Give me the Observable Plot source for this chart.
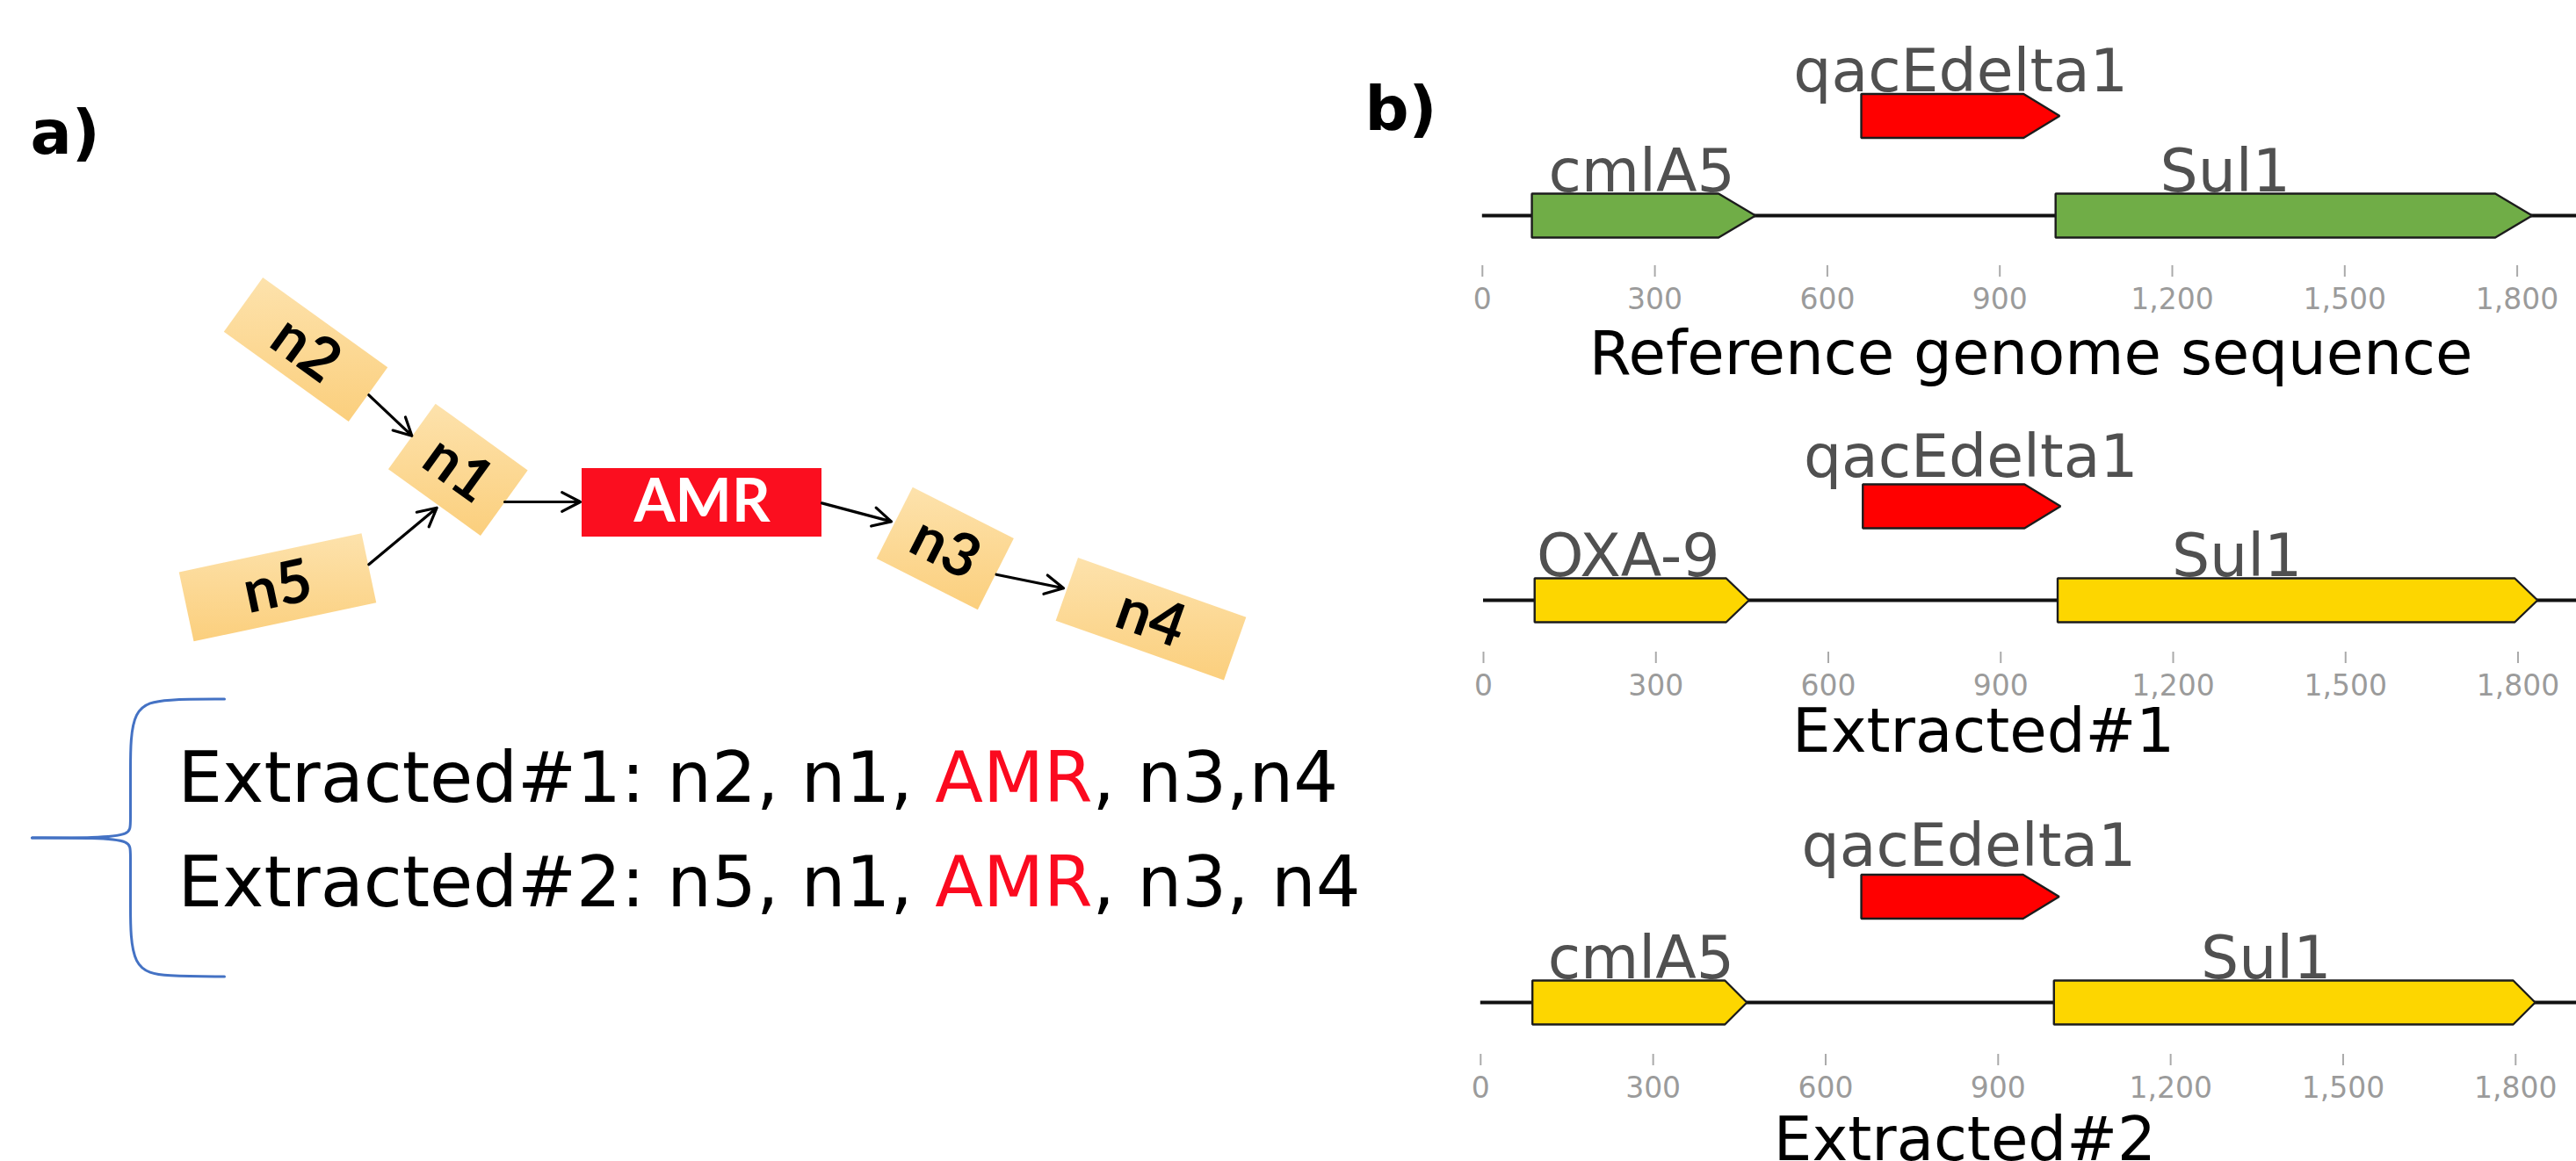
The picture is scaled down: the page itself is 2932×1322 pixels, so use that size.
<!DOCTYPE html>
<html><head><meta charset="utf-8">
<script src="https://cdn.jsdelivr.net/npm/d3@7"></script>
<script src="https://cdn.jsdelivr.net/npm/@observablehq/plot@0.6"></script>
<style>
html,body{margin:0;padding:0;background:#fff;}
#fig{position:relative;width:2932px;height:1322px;overflow:hidden;background:#fff;}
#fig > div{position:absolute;}
#fig svg{display:block;max-width:none;}
</style></head><body><div id="fig"></div>
<script>
// ================= DATA =================
// Panel a: assembly graph around the AMR gene
const nodeNames = ["n2", "n1", "n5", "n3", "n4"];
const amrName = "AMR";
const edgeFrom = ["n2", "n5", "n1", "AMR", "n3"];
const edgeTo   = ["n1", "n1", "AMR", "n3", "n4"];
const extractedLines = ["Extracted#1: n2, n1, AMR, n3,n4", "Extracted#2: n5, n1, AMR, n3, n4"];
const panelLabels = ["a)", "b)"];

// Panel b: gene tracks (positions in bp)
const trackTitles = ["Reference genome sequence", "Extracted#1", "Extracted#2"];
const geneNames  = [["cmlA5", "qacEdelta1", "Sul1"], ["OXA-9", "qacEdelta1", "Sul1"], ["cmlA5", "qacEdelta1", "Sul1"]];
const geneStart  = [[86, 659, 997], [89, 660, 999], [90, 662, 997]];
const geneEnd    = [[475, 1004, 1826], [462, 1004, 1834], [463, 1006, 1834]];
const geneLevel  = [[0, 1, 0], [0, 1, 0], [0, 1, 0]];
const geneLabelX = [[277, 832, 1292], [252, 848, 1311], [279, 849, 1366]];
const axisTicks  = [0, 300, 600, 900, 1200, 1500, 1800];

// ================= LAYOUT / STYLE =================
const W = 2932, H = 1322;
const layoutA = {
  nodes: {
    n2: {cx: 347.5, cy: 397.5, w: 175, h: 76, angle: 35.75},
    n1: {cx: 520.8, cy: 534.3, w: 129.4, h: 91.8, angle: 35.8},
    n5: {cx: 315.5, cy: 668.3, w: 212.4, h: 80.7, angle: -12},
    n3: {cx: 1075.3, cy: 624, w: 129, h: 91, angle: 26.8},
    n4: {cx: 1309.5, cy: 704.2, w: 203, h: 76, angle: 19.5}
  },
  amr: {x1: 662, x2: 935, y1: 533, y2: 611},
  edges: [[419.3, 449.3, 468.3, 495.7], [419.3, 642.3, 496.7, 577.7], [574, 571, 660, 571], [935, 572.4, 1014, 593.4], [1133.6, 653.7, 1210, 669.3]],
  textX: 202, textY: [912.4, 1031.7],
  labelPos: [[34, 174], [1553, 147]],
  braceUpper: [[255, 795.6], [190, 795.6], [148, 802], [148, 880], [148, 938], [148, 950], [110, 953.5], [36, 953.5]],
  braceMirrorY: 1907
};
const trackLayout = [
  {top: 0,   height: 440, x0: 146.8, x1800: 1324.6, lineY: 245, upperY: 131.5, titleX: 954, titleDy: 123, headPx: 42, upperGap: 3},
  {top: 440, height: 440, x0: 148.0, x1800: 1325.5, lineY: 243, upperY: 136,   titleX: 870, titleDy: 113, headPx: 26, upperGap: 9},
  {top: 898, height: 424, x0: 144.8, x1800: 1322.8, lineY: 243, upperY: 122.5, titleX: 842, titleDy: 120, headPx: 25, upperGap: 10}
];
const flankColor = ["#70ad47", "#fdd600", "#fdd600"];
const amrGeneColor = "#ff0000";
const amrBoxColor = "#fb0e1f";
const amrTextColor = "#fb0a1f";
const nodeFill = "#fdd895";
const braceColor = "#4472c4";
const geneHalfPx = 25, amrHeadPx = 41, axisY = 302, tickFont = 33;

const fig = document.getElementById("fig");
function place(el, left, top) {
  const d = document.createElement("div");
  d.style.left = left + "px"; d.style.top = top + "px";
  d.appendChild(el); fig.appendChild(d);
}

// ================= PANEL A (and panel labels) =================
const nodeRows = nodeNames.map(n => ({name: n, ...layoutA.nodes[n]}));
const nodeCorners = nodeRows.flatMap(n => {
  const a = n.angle * Math.PI / 180, c = Math.cos(a), s = Math.sin(a);
  return [[-1, -1], [1, -1], [1, 1], [-1, 1]].map(([u, v]) => ({
    name: n.name,
    x: n.cx + u * n.w / 2 * c - v * n.h / 2 * s,
    y: n.cy + u * n.w / 2 * s + v * n.h / 2 * c
  }));
});
const edges = edgeFrom.map((f, i) => {
  const [x1, y1, x2, y2] = layoutA.edges[i];
  return {from: f, to: edgeTo[i], x1, y1, x2, y2};
});
const amrRow = {name: amrName, ...layoutA.amr};
const braceRows = [
  ...layoutA.braceUpper.map(([x, y]) => ({half: "upper", x, y})),
  ...layoutA.braceUpper.map(([x, y]) => ({half: "lower", x, y: layoutA.braceMirrorY - y}))
];
const lineRows = extractedLines.map((t, i) => ({text: t, x: layoutA.textX, y: layoutA.textY[i]}));
const panelRows = panelLabels.map((t, i) => ({text: t, x: layoutA.labelPos[i][0], y: layoutA.labelPos[i][1]}));

const plotA = Plot.plot({
  width: W, height: H, margin: 0,
  x: {domain: [0, W], range: [0, W], axis: null},
  y: {domain: [0, H], range: [0, H], axis: null},
  style: {background: "transparent", overflow: "visible", fontFamily: "'DejaVu Sans', sans-serif"},
  marks: [
    Plot.line(nodeCorners, {x: "x", y: "y", z: "name", curve: "linear-closed", fill: nodeFill, stroke: "none"}),
    Plot.rect([amrRow], {x1: "x1", x2: "x2", y1: "y1", y2: "y2", fill: amrBoxColor}),
    Plot.arrow(edges, {x1: "x1", y1: "y1", x2: "x2", y2: "y2", stroke: "#000", strokeWidth: 3.2, headLength: 11, headAngle: 55}),
    Plot.text(nodeRows, {x: "cx", y: "cy", text: "name", rotate: "angle", fontSize: 68, fontWeight: "bold", fontFamily: "Lato, 'Open Sans', sans-serif", fill: "#000", lineAnchor: "middle"}),
    Plot.text([amrRow], {x: d => (d.x1 + d.x2) / 2, y: d => (d.y1 + d.y2) / 2, text: "name", fontSize: 68, fontWeight: "bold", fontFamily: "Lato, 'Open Sans', sans-serif", fill: "#fff", lineAnchor: "middle"}),
    Plot.line(braceRows, {x: "x", y: "y", z: "half", curve: "basis", stroke: braceColor, strokeWidth: 3}),
    Plot.text(lineRows, {x: "x", y: "y", text: "text", textAnchor: "start", lineAnchor: "bottom", fontSize: 80, fill: "#000", fontFamily: "'DejaVu Sans', sans-serif"}),
    Plot.text(panelRows, {x: "x", y: "y", text: "text", textAnchor: "start", lineAnchor: "bottom", fontSize: 70, fontWeight: "bold", fill: "#000", fontFamily: "'DejaVu Sans', sans-serif"})
  ]
});

// gradient fill for the graph nodes
const NS = "http://www.w3.org/2000/svg";
const defs = document.createElementNS(NS, "defs");
defs.innerHTML = '<linearGradient id="nodeGrad" x1="0" y1="0" x2="0" y2="1"><stop offset="0" stop-color="#fde2ac"/><stop offset="1" stop-color="#fbcf7d"/></linearGradient>';
plotA.insertBefore(defs, plotA.firstChild);
plotA.querySelectorAll(`[fill="${nodeFill}"]`).forEach(g => g.setAttribute("fill", "url(#nodeGrad)"));
// colour "AMR" red inside the extracted-path lines
plotA.querySelectorAll("text").forEach(t => {
  const s = t.textContent;
  const i = s.indexOf(amrName + ",");
  if (s.startsWith("Extracted#") && i > 0) {
    t.textContent = "";
    t.setAttribute("xml:space", "preserve");
    [s.slice(0, i), amrName, s.slice(i + amrName.length)].forEach((p, k) => {
      const ts = document.createElementNS(NS, "tspan");
      ts.textContent = p;
      if (k === 1) ts.setAttribute("fill", amrTextColor);
      t.appendChild(ts);
    });
  }
});
place(plotA, 0, 0);

// ================= PANEL B: gene tracks =================
trackTitles.forEach((title, t) => {
  const L = trackLayout[t];
  const pxPerBp = (L.x1800 - L.x0) / 1800;
  const lvlPerPx = 1 / (L.lineY - L.upperY);
  const half = geneHalfPx * lvlPerPx;
  const genes = geneNames[t].map((name, i) => ({
    name, start: geneStart[t][i], end: geneEnd[t][i], level: geneLevel[t][i], labelX: geneLabelX[t][i]
  }));
  const shapes = genes.map(g => {
    const headBp = (g.level === 1 ? amrHeadPx : L.headPx) / pxPerBp;
    const up = g.level + half, dn = g.level - half;
    const pts = [[g.start, up], [g.end - headBp, up], [g.end, g.level], [g.end - headBp, dn], [g.start, dn]];
    return Plot.line(pts, {x: d => d[0], y: d => d[1], curve: "linear-closed",
      fill: g.level === 1 ? amrGeneColor : flankColor[t], stroke: "#1c1c1c", strokeWidth: 2.4, strokeLinejoin: "miter"});
  });
  const plot = Plot.plot({
    width: 1392, height: L.height,
    marginTop: 0, marginLeft: 0, marginRight: 0, marginBottom: L.height - axisY,
    x: {domain: [0, 1800], range: [L.x0, L.x1800], axis: null},
    y: {domain: [0, 1], range: [L.lineY, L.upperY], axis: null},
    style: {background: "transparent", overflow: "visible", fontFamily: "'DejaVu Sans', sans-serif", fontSize: tickFont + "px"},
    marks: [
      Plot.ruleY([{y: 0, x1: 0, x2: 2200}], {y: "y", x1: "x1", x2: "x2", stroke: "#111", strokeWidth: 4}),
      ...shapes,
      Plot.text(genes.filter(g => g.level === 0), {x: "labelX", y: "level", text: "name", dy: -(geneHalfPx + 3), lineAnchor: "bottom", fontSize: 68, fill: "#505050"}),
      Plot.text(genes.filter(g => g.level === 1), {x: "labelX", y: "level", text: "name", dy: -(geneHalfPx + L.upperGap), lineAnchor: "bottom", fontSize: 68, fill: "#505050"}),
      Plot.axisX(axisTicks, {anchor: "bottom", tickSize: 13, tickPadding: 13, fontSize: tickFont, fontFamily: "'DejaVu Sans', sans-serif", fill: "#9b9b9b", stroke: "#aaa", strokeWidth: 2, tickFormat: d3.format(","), label: null}),
      Plot.text([{text: title, x: L.titleX}], {x: "x", text: "text", frameAnchor: "bottom", dy: L.titleDy, lineAnchor: "bottom", fontSize: 69, fill: "#000"})
    ]
  });
  place(plot, 1540, L.top);
});
</script></body></html>
